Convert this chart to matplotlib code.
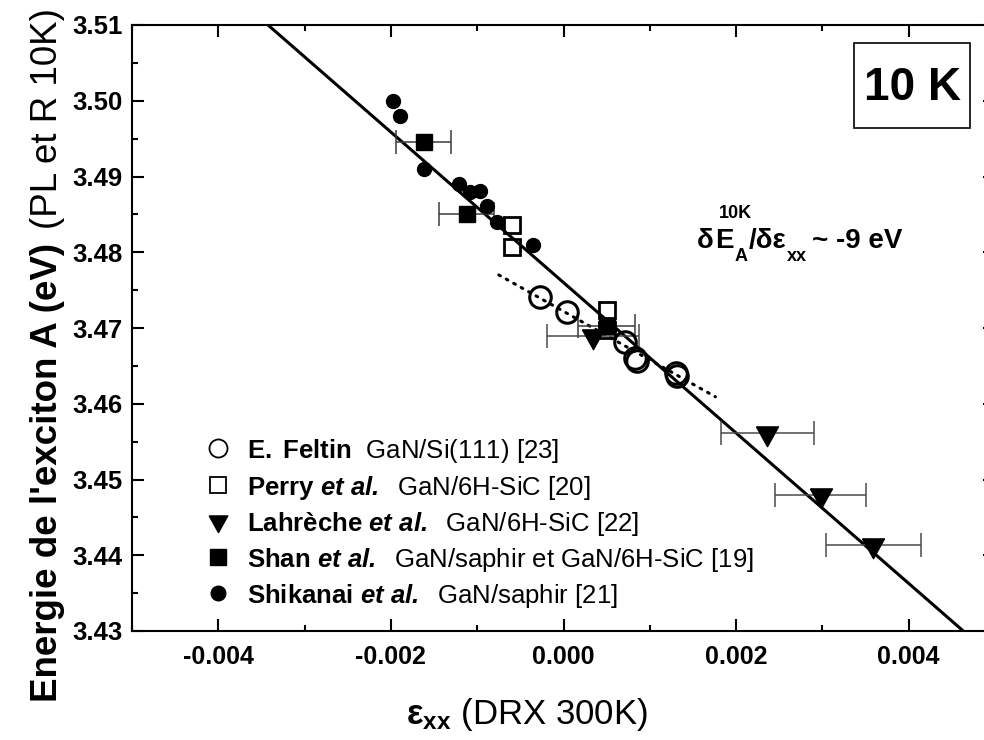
import matplotlib
matplotlib.use('Agg')
import matplotlib.pyplot as plt
from matplotlib.patches import Rectangle
from matplotlib.ticker import MultipleLocator, FormatStrFormatter
import numpy as np

plt.rcParams['font.family'] = ['Liberation Sans', 'DejaVu Sans']
plt.rcParams['mathtext.fontset'] = 'custom'
plt.rcParams['mathtext.rm'] = 'Liberation Sans'
plt.rcParams['mathtext.bf'] = 'Liberation Sans:bold'
plt.rcParams['mathtext.it'] = 'Liberation Sans:italic'
plt.rcParams['mathtext.bfit'] = 'Liberation Sans:bold:italic'
plt.rcParams['axes.unicode_minus'] = False

# ---------------- data ----------------
# E. Feltin, GaN/Si(111) [23] (open circles)
feltin_x = [-0.00027, 0.000035, 0.00071, 0.00083, 0.00085, 0.00130, 0.00132]
feltin_y = [3.4741, 3.4721, 3.4681, 3.4660, 3.4656, 3.4640, 3.4637]

# Perry et al., GaN/6H-SiC [20] (open squares)
perry_x = [-0.00060, -0.00060, 0.00050, 0.00050]
perry_y = [3.4836, 3.4807, 3.4724, 3.4697]

# Lahreche et al., GaN/6H-SiC [22] (filled down triangles, with x error)
lah_x = [0.00034, 0.00236, 0.00298, 0.00359]
lah_y = [3.4689, 3.4561, 3.4480, 3.4414]
lah_xerr = [0.00053, 0.00054, 0.00053, 0.00055]

# Shan et al., GaN/saphir et GaN/6H-SiC [19] (filled squares, with x error)
shan_x = [-0.00162, -0.00112, 0.00050]
shan_y = [3.4945, 3.4850, 3.4703]
shan_xerr = [0.00032, 0.00032, 0.00033]

# Shikanai et al., GaN/saphir [21] (filled circles)
shik_x = [-0.00197, -0.00189, -0.00162, -0.00121, -0.00108, -0.00097, -0.00089, -0.00077, -0.00035]
shik_y = [3.5000, 3.4980, 3.4910, 3.4890, 3.4880, 3.4881, 3.4861, 3.4840, 3.4810]

# linear fits
fit_slope = -9.93          # eV per unit strain (all data)
fit_intercept = 3.4760
feltin_slope = -6.41       # dotted fit through Feltin data
feltin_intercept = 3.4722
feltin_fit_range = [-0.00075, 0.00176]

x_ticks_fmt = '%.3f'
y_ticks_fmt = '%.2f'

legend_labels = [
    r'$\mathbf{E.\ Feltin}$  GaN/Si(111) [23]',
    r'$\mathbf{Perry}\ \mathbfit{et\ al.}$  GaN/6H-SiC [20]',
    r'$\mathbf{Lahrèche}\ \mathbfit{et\ al.}$  GaN/6H-SiC [22]',
    r'$\mathbf{Shan}\ \mathbfit{et\ al.}$  GaN/saphir et GaN/6H-SiC [19]',
    r'$\mathbf{Shikanai}\ \mathbfit{et\ al.}$  GaN/saphir [21]',
]

# ---------------- figure ----------------
W, H = 984, 740
fig = plt.figure(figsize=(W / 100, H / 100), dpi=100)
ax_l, ax_r, ax_t, ax_b = 132, 995, 25, 631
ax = fig.add_axes([ax_l / W, (H - ax_b) / H, (ax_r - ax_l) / W, (ax_b - ax_t) / H])

# custom down-triangle (wider than tall, centroid at origin)
tri = [(-1.0, 0.6), (1.0, 0.6), (0.0, -1.2), (-1.0, 0.6)]

# fit lines
xs = np.array([-0.006, 0.006])
ax.plot(xs, fit_intercept + fit_slope * xs, color='k', lw=2.2, zorder=2)
xd = np.array(feltin_fit_range)
ax.plot(xd, feltin_intercept + feltin_slope * xd, color='k', lw=2.2,
        linestyle=(0, (0.6, 2.2)), dash_capstyle='round', zorder=2)

# error bars
ax.errorbar(shan_x, shan_y, xerr=shan_xerr, fmt='none', ecolor='#3a3a3a',
            elinewidth=1.1, capsize=8.5, capthick=1.1, zorder=3)
ax.errorbar(lah_x, lah_y, xerr=lah_xerr, fmt='none', ecolor='#4a4a4a',
            elinewidth=1.1, capsize=8.5, capthick=1.1, zorder=3)

# markers
ax.plot(shik_x, shik_y, 'o', ms=10, color='k', mec='k', zorder=4)
ax.plot(shan_x, shan_y, 's', ms=11.5, color='k', mec='k', zorder=4)
ax.plot(perry_x, perry_y, 's', ms=11, mfc='none', mec='k', mew=2.0, zorder=5)
ax.plot(lah_x, lah_y, marker=tri, ms=19, linestyle='none', color='k', zorder=4)
ax.plot(feltin_x, feltin_y, 'o', ms=15.5, mfc='none', mec='k', mew=2.2, zorder=5)

ax.set_xlim(-0.005, 0.005)
ax.set_ylim(3.43, 3.51)
ax.xaxis.set_major_locator(MultipleLocator(0.002))
ax.xaxis.set_minor_locator(MultipleLocator(0.001))
ax.yaxis.set_major_locator(MultipleLocator(0.01))
ax.yaxis.set_minor_locator(MultipleLocator(0.005))
ax.xaxis.set_major_formatter(FormatStrFormatter(x_ticks_fmt))
ax.yaxis.set_major_formatter(FormatStrFormatter(y_ticks_fmt))
ax.tick_params(which='both', direction='in', top=True, right=True, width=1.5)
ax.tick_params(which='major', length=8.6)
ax.tick_params(which='minor', length=4.5)
ax.tick_params(axis='x', labelsize=18, pad=10)
ax.tick_params(axis='y', labelsize=18.5, pad=7)
for lab in ax.get_xticklabels() + ax.get_yticklabels():
    lab.set_fontweight('bold')
for sp in ax.spines.values():
    sp.set_linewidth(1.5)


def axf(px, py):
    return (px - ax_l) / (ax_r - ax_l), (ax_b - py) / (ax_b - ax_t)


# manual legend
leg_styles = [
    dict(marker='o', ms=13, mfc='none', mec='k', mew=1.3),
    dict(marker='s', ms=11, mfc='none', mec='k', mew=1.3),
    dict(marker=tri, ms=16, color='k'),
    dict(marker='s', ms=11, color='k'),
    dict(marker='o', ms=10.5, color='k'),
]
row_y = [448, 484.5, 521, 557, 593]
for st, lab, ry in zip(leg_styles, legend_labels, row_y):
    mx, my = axf(218, ry)
    ax.plot([mx], [my], transform=ax.transAxes, clip_on=False, linestyle='none', **st)
    tx, ty = axf(247, ry + 10)
    ax.text(tx, ty, lab, transform=ax.transAxes, fontsize=18.5, ha='left', va='baseline')

# 10 K box
x0, y1 = axf(854, 43)
x1, y0 = axf(970, 128)
ax.add_patch(Rectangle((x0, y0), x1 - x0, y1 - y0, transform=ax.transAxes,
                       fill=False, lw=1.2, ec='k', clip_on=False, zorder=6))
bx, by = axf(912, 100)
ax.text(bx, by, '10 K', transform=ax.transAxes, fontsize=33, fontweight='bold',
        ha='center', va='baseline')

# axis labels
fig.text(527 / W, 1 - 724 / H, r'$\mathbf{\varepsilon_{xx}}$ (DRX 300K)', fontsize=25,
         ha='center', va='baseline')

renderer = fig.canvas.get_renderer()
t1 = fig.text(57 / W, 1 - 702 / H, "Energie de l'exciton A (eV)", rotation=90,
              rotation_mode='anchor', fontsize=26.5, fontweight='bold', ha='left', va='baseline')
bb = t1.get_window_extent(renderer)
fig.text(57 / W, (bb.y1 + 14) / H, "(PL et R 10K)", rotation=90, rotation_mode='anchor',
         fontsize=26.5, ha='left', va='baseline')


# slope annotation, built from pieces so that super/subscripts sit like the original
def put(s, x_px, base_px, size):
    t = fig.text(x_px / W, 1 - base_px / H, s, fontsize=size, fontweight='bold',
                 ha='left', va='baseline')
    return t.get_window_extent(renderer)


big, small = 20, 13
base = 248
b_d = put('δ', 697, base, big)
b_E = put('E', b_d.x1 + 1, base, big)
put('10K', b_E.x0 + 0.2 * b_E.width, 218, small)
b_A = put('A', b_E.x1 + 1, 261, small)
b_sl = put('/δε', b_A.x1 + 1, base, big)
b_xx = put('xx', b_sl.x1 + 1, 261, small)
put('~ -9 eV', b_xx.x1 + 5, base, big)

fig.savefig('out.png', dpi=100)
